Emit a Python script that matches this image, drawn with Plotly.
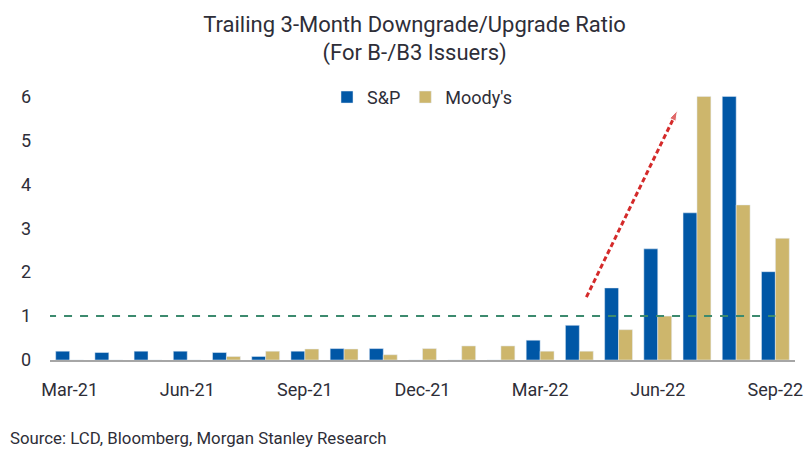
import plotly.graph_objects as go

months = ["Mar-21", "Apr-21", "May-21", "Jun-21", "Jul-21", "Aug-21", "Sep-21", "Oct-21",
          "Nov-21", "Dec-21", "Jan-22", "Feb-22", "Mar-22", "Apr-22", "May-22", "Jun-22",
          "Jul-22", "Aug-22", "Sep-22"]
sp = [0.20, 0.17, 0.20, 0.20, 0.17, 0.08, 0.20, 0.26, 0.26, 0, 0, 0, 0.45, 0.79, 1.64,
      2.53, 3.35, 6.0, 2.01]
moodys = [0, 0, 0, 0, 0.08, 0.20, 0.25, 0.25, 0.12, 0.26, 0.32, 0.32, 0.20, 0.20, 0.69,
          1.0, 6.0, 3.53, 2.77]
tick_labels = ["Mar-21", "Jun-21", "Sep-21", "Dec-21", "Mar-22", "Jun-22", "Sep-22"]
threshold = 1
arrow_x = [13.18, 15.5]
arrow_y = [1.43, 5.68]

FONT = "Roboto, sans-serif"
TXT = "#2e2e38"
xi = list(range(len(months)))

fig = go.Figure()
fig.add_bar(x=xi, y=sp, name="S&P", marker_color="#0057A6")
fig.add_bar(x=xi, y=moodys, name="Moody's", marker_color="#CDB66C")

fig.add_trace(go.Scatter(x=[-0.55, 18], y=[threshold, threshold], mode="lines",
                         line=dict(color="#3C8A6E", width=2, dash="8px,8px"),
                         showlegend=False, hoverinfo="skip"))
fig.add_trace(go.Scatter(x=arrow_x, y=arrow_y, mode="lines+markers",
                         line=dict(color="#D42A2A", width=3, dash="5px,3px"),
                         marker=dict(symbol=["circle", "arrow"], size=[0, 11],
                                     angleref="previous", color="#D42A2A"),
                         showlegend=False, hoverinfo="skip"))

fig.update_layout(
    width=805, height=451,
    margin=dict(l=50, r=10, t=92, b=91, autoexpand=False),
    paper_bgcolor="white", plot_bgcolor="white",
    barmode="group", bargap=0.29, bargroupgap=0,
    font=dict(family=FONT, size=18, color=TXT),
    title=dict(text="Trailing 3-Month Downgrade/Upgrade Ratio<br>(For B-/B3 Issuers)",
               x=0.515, xanchor="center", y=0.93, yanchor="top",
               font=dict(family=FONT, size=22, color=TXT)),
    legend=dict(orientation="h", x=0.5, xanchor="center", y=0.98, yanchor="middle",
                font=dict(family=FONT, size=18, color=TXT), itemwidth=30,
                bgcolor="rgba(0,0,0,0)", traceorder="normal"),
    xaxis=dict(range=[-0.5, 18.5], tickmode="array", automargin=False,
               tickvals=[months.index(t) for t in tick_labels], ticktext=tick_labels,
               showgrid=False, zeroline=False, showline=True, linecolor="#A6A6A6",
               linewidth=2, ticks="", tickfont=dict(size=18, color=TXT), ticklabelstandoff=12),
    yaxis=dict(range=[0, 6.1], tickvals=[0, 1, 2, 3, 4, 5, 6], showgrid=False,
               zeroline=False, showline=False, ticks="", automargin=False,
               tickfont=dict(size=18, color=TXT), ticklabelstandoff=18),
    annotations=[dict(text="Source: LCD, Bloomberg, Morgan Stanley Research", xref="paper",
                      yref="paper", x=-0.057, y=-0.291, xanchor="left", yanchor="middle",
                      showarrow=False, font=dict(family=FONT, size=16.8, color=TXT))],
)

fig.write_html("out.html", config={"displayModeBar": False},
               post_script="document.body.style.margin='0px';")
